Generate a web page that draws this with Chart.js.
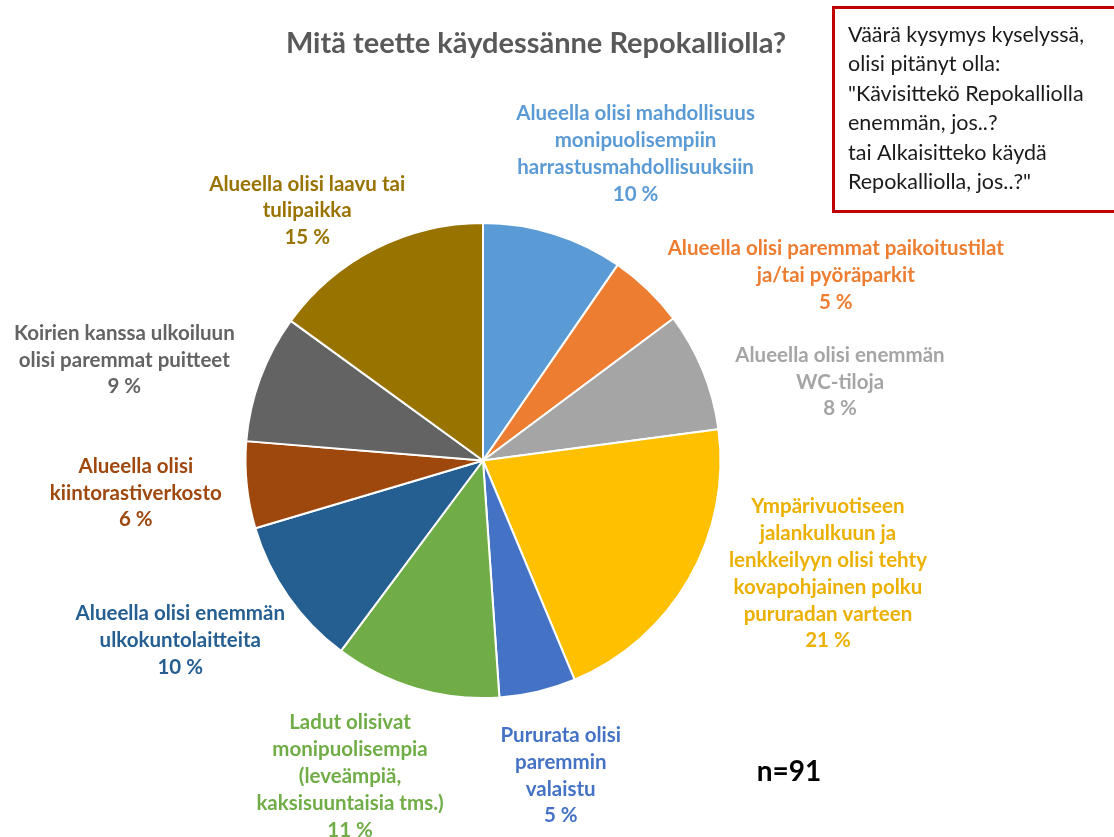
<!DOCTYPE html>
<html><head><meta charset="utf-8">
<script src="https://cdn.jsdelivr.net/npm/chart.js@4.4.1/dist/chart.umd.min.js"></script>
<style>html,body{margin:0;padding:0;background:#fff;overflow:hidden}#wrap{width:1114px;height:837px;position:relative}</style>
</head><body><div id="wrap"><canvas id="c" width="1114" height="837"></canvas></div>
<script>
const titleText = "Mitä teette käydessänne Repokalliolla?";
const categories = [
  ["Alueella olisi mahdollisuus", "monipuolisempiin", "harrastusmahdollisuuksiin"],
  ["Alueella olisi paremmat paikoitustilat", "ja/tai pyöräparkit"],
  ["Alueella olisi enemmän", "WC-tiloja"],
  ["Ympärivuotiseen", "jalankulkuun ja", "lenkkeilyyn olisi tehty", "kovapohjainen polku", "pururadan varteen"],
  ["Pururata olisi", "paremmin", "valaistu"],
  ["Ladut olisivat", "monipuolisempia", "(leveämpiä,", "kaksisuuntaisia tms.)"],
  ["Alueella olisi enemmän", "ulkokuntolaitteita"],
  ["Alueella olisi", "kiintorastiverkosto"],
  ["Koirien kanssa ulkoiluun", "olisi paremmat puitteet"],
  ["Alueella olisi laavu tai", "tulipaikka"]
];
const percentValues = [9.6, 5.2, 8.1, 20.8, 5.2, 11.3, 10.2, 5.9, 8.7, 15.0];
const sliceColors = ["#5B9BD5", "#ED7D31", "#A5A5A5", "#FFC000", "#4472C4", "#70AD47", "#255E91", "#9E480E", "#636363", "#997300"];
const labelColors = ["#5B9BD5", "#ED7D31", "#A5A5A5", "#EBB000", "#4472C4", "#70AD47", "#255E91", "#9E480E", "#636363", "#997300"];
const noteLines = [
  "Väärä kysymys kyselyssä,",
  "olisi pitänyt olla:",
  "\"Kävisittekö Repokalliolla",
  "enemmän, jos..?",
  "tai Alkaisitteko käydä",
  "Repokalliolla, jos..?\""
];
const sampleText = "n=91";

// layout: label box centre offset from each slice's outer mid point
const labelShift = [[82,-80],[188,-14],[137,11],[139,-5],[23,84],[-66,88],[-108,44],[-111,8],[-136,-18],[-68,-38]];
const LABEL_FONT = "bold 20.5px Lato";
const LABEL_LH = 26.8;

const outsideLabels = {
  id: 'outsideLabels',
  afterDatasetsDraw(chart) {
    const ctx = chart.ctx;
    const meta = chart.getDatasetMeta(0);
    ctx.save();
    ctx.font = LABEL_FONT;
    ctx.textAlign = 'center';
    ctx.textBaseline = 'middle';
    meta.data.forEach((arc, i) => {
      const p = arc.getProps(['x','y','startAngle','endAngle','outerRadius'], true);
      const mid = (p.startAngle + p.endAngle) / 2;
      const ox = p.x + Math.cos(mid) * p.outerRadius;
      const oy = p.y + Math.sin(mid) * p.outerRadius;
      const cx = ox + labelShift[i][0];
      const cy = oy + labelShift[i][1];
      const lines = categories[i].concat([Math.round(chart.data.datasets[0].data[i]) + " %"]);
      const h = lines.length * LABEL_LH;
      ctx.fillStyle = labelColors[i];
      lines.forEach((t, k) => {
        ctx.fillText(t, cx, cy - h / 2 + LABEL_LH / 2 + k * LABEL_LH);
      });
    });
    ctx.restore();
  }
};

const extras = {
  id: 'extras',
  afterDraw(chart) {
    const ctx = chart.ctx;
    ctx.save();
    // title
    ctx.font = "bold 29px Lato";
    ctx.fillStyle = "#595959";
    ctx.textAlign = 'center';
    ctx.textBaseline = 'middle';
    ctx.fillText(titleText, 536, 44);
    // note box
    ctx.strokeStyle = "#C00000";
    ctx.lineWidth = 3;
    ctx.strokeRect(833.5, 7.5, 300, 204);
    ctx.font = "21.5px Lato";
    ctx.fillStyle = "#1a1a1a";
    ctx.textAlign = 'left';
    noteLines.forEach((t, k) => ctx.fillText(t, 848, 35 + k * 29.4));
    // sample size
    ctx.font = "bold 28px Lato";
    ctx.fillStyle = "#000";
    ctx.textAlign = 'center';
    ctx.fillText(sampleText, 789, 772);
    ctx.restore();
  }
};

new Chart(document.getElementById('c'), {
  type: 'pie',
  data: {
    labels: categories,
    datasets: [{
      data: percentValues,
      backgroundColor: sliceColors,
      borderColor: '#ffffff',
      borderWidth: 2
    }]
  },
  options: {
    responsive: false,
    devicePixelRatio: 1,
    animation: false,
    layout: { padding: { left: 244.5, right: 392.5, top: 222, bottom: 138 } },
    plugins: { legend: { display: false }, tooltip: { enabled: false }, title: { display: false } }
  },
  plugins: [outsideLabels, extras]
});
</script>
</body></html>
